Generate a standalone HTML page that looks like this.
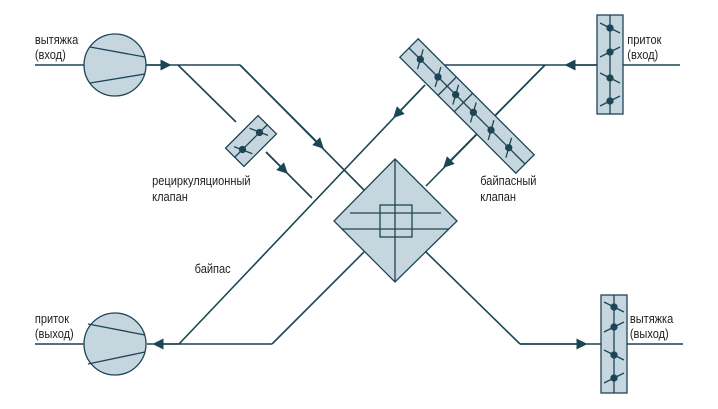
<!DOCTYPE html>
<html><head><meta charset="utf-8"><style>
html,body{margin:0;padding:0;background:#fff;}
svg{display:block;}
text{font-family:"Liberation Sans",sans-serif;font-size:13px;fill:#222;}
</style></head><body>
<svg width="718" height="409" viewBox="0 0 718 409" xmlns="http://www.w3.org/2000/svg">
<defs>
<marker id="a" viewBox="0 0 10 10" refX="5" refY="5" markerWidth="11" markerHeight="11" markerUnits="userSpaceOnUse" orient="auto"><path d="M0,0 L10,5 L0,10 z" fill="#1c4555"/></marker>
</defs>
<g stroke="#1c4555" stroke-width="1.6" fill="none">
<!-- top-left -->
<line x1="35" y1="65" x2="84" y2="65"/>
<line x1="146" y1="65" x2="240" y2="65"/>
<path d="M146,65 L166,65" marker-end="url(#a)"/>
<line x1="178" y1="65" x2="236" y2="122"/>
<line x1="266" y1="152" x2="312" y2="198"/>
<path d="M266,152 L284,170" marker-end="url(#a)"/>
<line x1="240" y1="65" x2="364" y2="190"/>
<path d="M240,65 L320,145" marker-end="url(#a)"/>
<!-- top-right -->
<line x1="623" y1="65" x2="680" y2="65"/>
<line x1="445" y1="65" x2="597" y2="65"/>
<path d="M597,65 L570,65" marker-end="url(#a)"/>
<line x1="545" y1="65" x2="426" y2="186"/>
<path d="M545,65 L447,164" marker-end="url(#a)"/>
<!-- bypass -->
<line x1="425" y1="85" x2="179" y2="344"/>
<path d="M425,85 L397,114" marker-end="url(#a)"/>
<!-- bottom -->
<line x1="364" y1="252" x2="272" y2="344"/>
<line x1="272" y1="344" x2="147" y2="344"/>
<path d="M179,344 L158,344" marker-end="url(#a)"/>
<line x1="35" y1="344" x2="84" y2="344"/>
<line x1="426" y1="252" x2="520" y2="344"/>
<line x1="520" y1="344" x2="601" y2="344"/>
<path d="M520,344 L582,344" marker-end="url(#a)"/>
<line x1="627" y1="344" x2="683" y2="344"/>
</g>
<g stroke="#1c4555" stroke-width="1.3" fill="#c6d6df">
<!-- fans -->
<circle cx="115" cy="65" r="31"/>
<line x1="90" y1="47" x2="145" y2="57"/>
<line x1="90" y1="83" x2="145" y2="74"/>
<circle cx="115" cy="344" r="31"/>
<line x1="88" y1="324" x2="145" y2="335"/>
<line x1="88" y1="364" x2="145" y2="352"/>
<!-- diamond -->
<polygon points="395,159 457,221 395,282 334,221"/>
<line x1="395" y1="159" x2="395" y2="282"/>
<line x1="350" y1="213" x2="441" y2="213"/>
<line x1="334" y1="221" x2="334" y2="221"/>
<line x1="342" y1="229" x2="449" y2="229"/>
<rect x="380" y="205" width="32" height="32" fill="none"/>
<!-- dampers -->
<rect x="597" y="15" width="26" height="99"/>
<line x1="610" y1="15" x2="610" y2="114"/>
<rect x="601" y="295" width="26" height="98"/>
<line x1="614" y1="295" x2="614" y2="393"/>
</g>
<g stroke="#1c4555" stroke-width="1.3" fill="#1c4555">
<line x1="600" y1="23" x2="620" y2="33"/><circle cx="610" cy="28" r="3"/>
<line x1="600" y1="57" x2="620" y2="47"/><circle cx="610" cy="52" r="3"/>
<line x1="600" y1="73" x2="620" y2="83"/><circle cx="610" cy="78" r="3"/>
<line x1="600" y1="106" x2="620" y2="96"/><circle cx="610" cy="101" r="3"/>
<line x1="604" y1="302" x2="624" y2="312"/><circle cx="614" cy="307" r="3"/>
<line x1="604" y1="332" x2="624" y2="322"/><circle cx="614" cy="327" r="3"/>
<line x1="604" y1="350" x2="624" y2="360"/><circle cx="614" cy="355" r="3"/>
<line x1="604" y1="383" x2="624" y2="373"/><circle cx="614" cy="378" r="3"/>
</g>
<!-- recirc valve -->
<g transform="translate(251,141) rotate(-45)">
<rect x="-23" y="-13" width="46" height="26" fill="#c6d6df" stroke="#1c4555" stroke-width="1.3"/>
<line x1="-23" y1="0" x2="23" y2="0" stroke="#1c4555" stroke-width="1.3"/>
<g stroke="#1c4555" stroke-width="1.3" fill="#1c4555">
<line x1="-16" y1="-8" x2="-8" y2="10"/><circle cx="-12" cy="0" r="3"/>
<line x1="8" y1="-10" x2="16" y2="8"/><circle cx="12" cy="0" r="3"/>
</g>
</g>
<!-- bypass valve -->
<g transform="translate(467,106) rotate(45)">
<rect x="-82" y="-13" width="164" height="26" fill="#c6d6df" stroke="#1c4555" stroke-width="1.3"/>
<line x1="-82" y1="0" x2="82" y2="0" stroke="#1c4555" stroke-width="1.3"/>
<line x1="-28" y1="-13" x2="-28" y2="13" stroke="#1c4555" stroke-width="1.3"/>
<line x1="-5" y1="-13" x2="-5" y2="13" stroke="#1c4555" stroke-width="1.3"/>
<g stroke="#1c4555" stroke-width="1.3" fill="#1c4555">
<line x1="-71" y1="-9" x2="-61" y2="9"/><circle cx="-66" cy="0" r="3"/>
<line x1="-46" y1="-9" x2="-36" y2="9"/><circle cx="-41" cy="0" r="3"/>
<line x1="-21" y1="-9" x2="-11" y2="9"/><circle cx="-16" cy="0" r="3"/>
<line x1="4" y1="-9" x2="14" y2="9"/><circle cx="9" cy="0" r="3"/>
<line x1="29" y1="-9" x2="39" y2="9"/><circle cx="34" cy="0" r="3"/>
<line x1="54" y1="-9" x2="64" y2="9"/><circle cx="59" cy="0" r="3"/>
</g>
</g>
<!-- labels -->
<g transform="scale(0.85,1)">
<text x="41" y="44">вытяжка</text>
<text x="41" y="59">(вход)</text>
<text x="738" y="44">приток</text>
<text x="738" y="59">(вход)</text>
<text x="41" y="323">приток</text>
<text x="41" y="338">(выход)</text>
<text x="741" y="323">вытяжка</text>
<text x="741" y="338">(выход)</text>
<text x="179" y="185">рециркуляционный</text>
<text x="179" y="201">клапан</text>
<text x="565" y="185">байпасный</text>
<text x="565" y="201">клапан</text>
<text x="229" y="273">байпас</text>
</g>
</svg>
</body></html>
